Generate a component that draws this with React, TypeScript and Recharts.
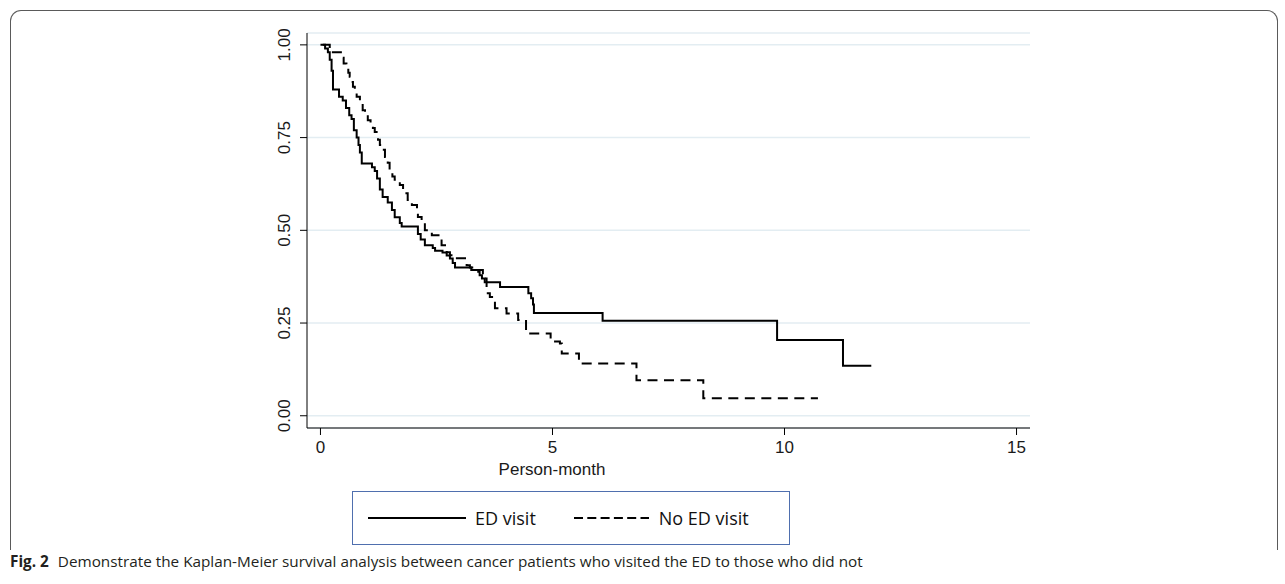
import React from 'react';
import { LineChart, Line, XAxis, YAxis, CartesianGrid } from 'recharts';

// Kaplan-Meier estimates (time in months, survival probability)
const edTimes = [0, 0.1, 0.16, 0.2, 0.24, 0.27, 0.4, 0.48, 0.55, 0.62, 0.67, 0.72, 0.78, 0.82, 0.85, 0.89, 1.11, 1.17, 1.22, 1.28, 1.34, 1.45, 1.54, 1.6, 1.71, 1.75, 2.1, 2.16, 2.25, 2.42, 2.47, 2.63, 2.72, 2.79, 2.85, 2.9, 3.25, 3.4, 3.43, 3.48, 3.54, 3.87, 4.48, 4.54, 4.58, 4.6, 6.08, 9.84, 11.26, 11.87];
const edSurv = [1.0, 0.99, 0.98, 0.96, 0.93, 0.88, 0.86, 0.85, 0.83, 0.81, 0.8, 0.77, 0.75, 0.73, 0.71, 0.68, 0.67, 0.66, 0.64, 0.61, 0.59, 0.575, 0.555, 0.535, 0.52, 0.51, 0.49, 0.475, 0.46, 0.452, 0.445, 0.44, 0.432, 0.424, 0.412, 0.4, 0.393, 0.388, 0.379, 0.37, 0.36, 0.347, 0.33, 0.317, 0.3, 0.277, 0.256, 0.204, 0.135, 0.135];

const noEdTimes = [0.05, 0.2, 0.44, 0.5, 0.56, 0.6, 0.63, 0.67, 0.7, 0.74, 0.78, 0.85, 0.91, 0.96, 1.02, 1.08, 1.13, 1.17, 1.24, 1.28, 1.32, 1.39, 1.45, 1.49, 1.55, 1.6, 1.71, 1.78, 1.88, 1.97, 2.08, 2.1, 2.18, 2.25, 2.4, 2.57, 2.61, 2.72, 2.79, 2.94, 3.15, 3.22, 3.39, 3.5, 3.58, 3.65, 3.72, 3.76, 4.01, 4.26, 4.43, 4.96, 5.16, 5.2, 5.57, 6.81, 8.25, 10.72];
const noEdSurv = [1.0, 0.98, 0.965, 0.95, 0.94, 0.925, 0.914, 0.9, 0.887, 0.873, 0.86, 0.843, 0.824, 0.81, 0.797, 0.787, 0.776, 0.765, 0.744, 0.73, 0.717, 0.698, 0.682, 0.654, 0.645, 0.636, 0.622, 0.6, 0.582, 0.568, 0.555, 0.536, 0.522, 0.5, 0.487, 0.479, 0.46, 0.441, 0.433, 0.425, 0.406, 0.4, 0.393, 0.37, 0.33, 0.32, 0.31, 0.29, 0.276, 0.258, 0.222, 0.2, 0.195, 0.168, 0.141, 0.096, 0.047, 0.047];

const xTicks = [0, 5, 10, 15];
const yTicks = [0, 0.25, 0.5, 0.75, 1];

const seriesNames = ['ED visit', 'No ED visit'];
const caption = 'Demonstrate the Kaplan-Meier survival analysis between cancer patients who visited the ED to those who did not';

const edData = edTimes.map((t, i) => ({ t, s: edSurv[i] }));
const noEdData = noEdTimes.map((t, i) => ({ t, s: noEdSurv[i] }));

const AXIS_FONT = '"Liberation Sans", Arial, sans-serif';

const YTick = ({ x, y, payload }: any) => (
  <text
    x={x}
    y={y}
    transform={`rotate(-90 ${x} ${y})`}
    textAnchor="middle"
    fontSize={17}
    fontFamily={AXIS_FONT}
    fill="#1a1a1a"
  >
    {Number(payload.value).toFixed(2)}
  </text>
);

// legend is drawn as a box under the axis title, like the Stata output
const LegendBox = () => (
  <div
    style={{
      position: 'absolute',
      left: 352,
      top: 491,
      width: 438,
      height: 54,
      border: '1.5px solid #4f6fae',
      boxSizing: 'border-box',
      display: 'flex',
      alignItems: 'center',
      fontFamily: '"Open Sans", sans-serif',
      fontSize: 18,
      color: '#111',
    }}
  >
    <svg width={100} height={10} style={{ marginLeft: 15 }}>
      <line x1={0} y1={5} x2={98} y2={5} stroke="#000" strokeWidth={1.8} />
    </svg>
    <span style={{ marginLeft: 7 }}>{seriesNames[0]}</span>
    <svg width={76} height={10} style={{ marginLeft: 38 }}>
      <line x1={0} y1={5} x2={75} y2={5} stroke="#000" strokeWidth={1.8} strokeDasharray="9 4.3" />
    </svg>
    <span style={{ marginLeft: 9 }}>{seriesNames[1]}</span>
  </div>
);

export default function App() {
  return (
    <div style={{ position: 'fixed', left: 0, top: 0, width: 1285, height: 584, background: '#fff', overflow: 'hidden' }}>
      <div
        style={{
          position: 'absolute',
          left: 10,
          top: 10,
          width: 1268,
          height: 540,
          borderTop: '1.5px solid #5a5a5a',
          borderLeft: '1.5px solid #5a5a5a',
          borderRight: '1.5px solid #5a5a5a',
          borderRadius: '11px 11px 0 0',
          boxSizing: 'border-box',
        }}
      />
      <div style={{ position: 'absolute', left: 0, top: 0 }}>
        <LineChart width={1285} height={584} margin={{ top: 33, right: 255, bottom: 116, left: 267 }}>
          <CartesianGrid horizontal vertical={false} stroke="#e3edf2" strokeWidth={1.5} />
          <XAxis
            type="number"
            dataKey="t"
            domain={[-0.29, 15.29]}
            ticks={xTicks}
            allowDataOverflow
            height={40}
            tickSize={7}
            tickMargin={6}
            stroke="#000"
            tick={{ fontSize: 17, fontFamily: AXIS_FONT, fill: '#1a1a1a' }}
          />
          <YAxis
            type="number"
            domain={[-0.033, 1.032]}
            ticks={yTicks}
            allowDataOverflow
            width={40}
            tickSize={7}
            tickMargin={10}
            stroke="#000"
            tick={<YTick />}
          />
          <Line
            data={edData}
            dataKey="s"
            name={seriesNames[0]}
            type="stepAfter"
            stroke="#000"
            strokeWidth={2}
            dot={false}
            isAnimationActive={false}
          />
          <Line
            data={noEdData}
            dataKey="s"
            name={seriesNames[1]}
            type="stepAfter"
            stroke="#000"
            strokeWidth={2}
            strokeDasharray="10 6.5"
            dot={false}
            isAnimationActive={false}
          />
        </LineChart>
      </div>
      <div
        style={{
          position: 'absolute',
          left: 452,
          width: 200,
          top: 460,
          textAlign: 'center',
          fontFamily: AXIS_FONT,
          fontSize: 17,
          color: '#1a1a1a',
        }}
      >
        Person-month
      </div>
      <LegendBox />
      <div
        style={{
          position: 'absolute',
          left: 10,
          top: 551,
          fontFamily: '"Open Sans", sans-serif',
          fontSize: 15.3,
          color: '#231f20',
          whiteSpace: 'nowrap',
        }}
      >
        <b>Fig. 2</b>
        <span style={{ marginLeft: 9 }}>{caption}</span>
      </div>
    </div>
  );
}
